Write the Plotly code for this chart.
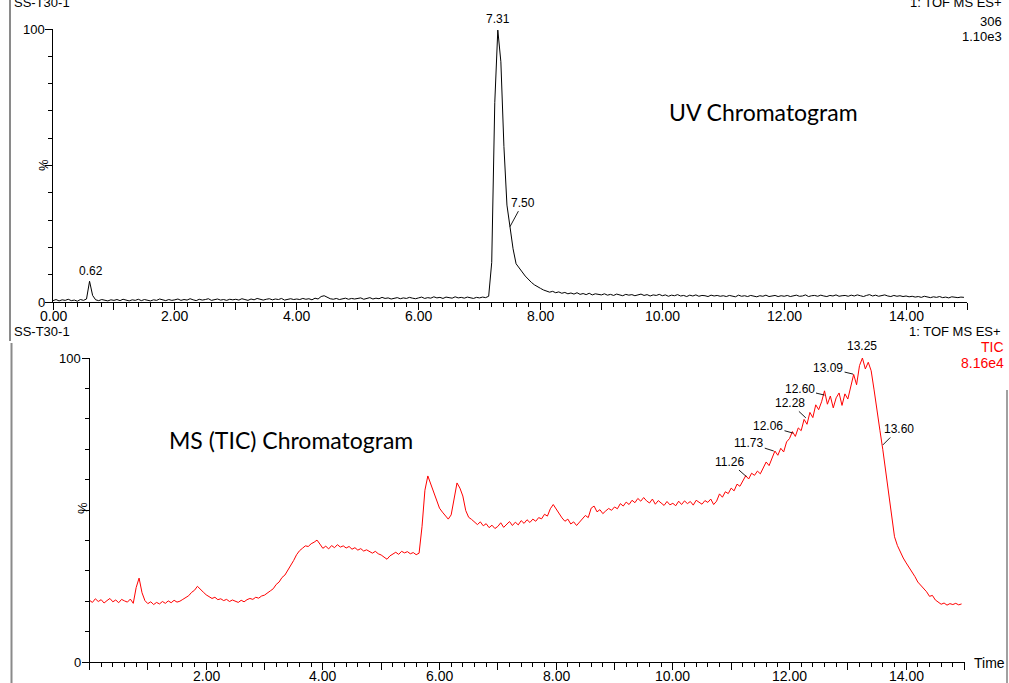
import plotly.graph_objects as go

W, H = 1009, 683

# ---------------- data ----------------
scan_step = 0.05
n_scans = 300
time_min = [round(i * scan_step, 2) for i in range(n_scans)]

# UV chromatogram, % of max (1.10e3), one row per minute
uv_pct = [
    0.5, 0.9, 0.4, 0.8, 0.6, 1.0, 0.5, 0.7, 0.3, 0.9, 0.6, 1.1, 7.6, 2.4, 0.8, 0.5, 0.9, 0.6, 0.4, 0.8,
    0.6, 0.9, 0.5, 1.0, 0.7, 0.4, 0.8, 0.6, 1.0, 0.5, 0.9, 0.7, 0.4, 0.8, 0.6, 1.1, 0.7, 0.5, 0.9, 0.6,
    0.8, 1.1, 0.6, 0.9, 0.7, 1.2, 0.8, 0.5, 1.0, 0.7, 0.9, 1.2, 0.6, 0.8, 1.1, 0.7, 0.9, 0.6, 1.0, 0.8,
    1.0, 0.7, 1.2, 0.9, 0.6, 1.1, 0.8, 1.3, 0.9, 0.7, 1.0, 1.2, 0.8, 1.1, 0.9, 1.3, 0.7, 1.0, 1.2, 0.9,
    1.1, 0.9, 1.3, 1.0, 1.2, 0.8, 1.4, 1.1, 2.0, 2.3, 1.6, 1.2, 1.0, 1.3, 0.9, 1.2, 1.4, 1.0, 1.3, 1.1,
    1.2, 1.5, 1.0, 1.3, 1.6, 1.1, 1.4, 1.2, 1.7, 1.3, 1.5, 1.1, 1.4, 1.6, 1.2, 1.5, 1.3, 1.7, 1.4, 1.2,
    1.5, 1.8, 1.3, 1.6, 1.4, 1.9, 1.5, 1.7, 1.3, 1.8, 1.6, 1.4, 1.9, 1.5, 1.7, 1.4, 1.8, 1.6, 1.3, 1.7,
    1.5, 1.8, 1.6, 2.1, 14.5, 73.0, 99.6, 88.0, 57.0, 35.5, 27.6, 19.5, 14.0, 12.3, 11.0, 9.5, 8.2, 7.2, 6.3, 5.5,
    5.0, 4.4, 4.1, 3.6, 3.9, 3.4, 3.7, 3.2, 3.5, 3.0, 3.3, 2.9, 3.4, 2.8, 3.1, 2.7, 3.2, 2.6, 3.0, 2.8,
    2.6, 3.0, 2.5, 2.8, 2.4, 2.9, 2.6, 2.3, 2.8, 2.5, 2.7, 2.3, 2.6, 2.9, 2.4, 2.7, 2.2, 2.6, 2.4, 2.8,
    2.3, 2.6, 2.1, 2.5, 2.3, 2.7, 2.2, 2.4, 2.0, 2.5, 2.2, 2.6, 2.1, 2.4, 2.3, 2.0, 2.5, 2.2, 2.4, 2.1,
    2.3, 2.0, 2.4, 2.2, 1.9, 2.5, 2.1, 2.3, 2.0, 2.4, 2.2, 1.9, 2.3, 2.1, 2.5, 2.0, 2.2, 2.4, 2.0, 2.3,
    2.1, 2.4, 2.0, 2.3, 2.5, 2.1, 2.2, 2.6, 2.0, 2.3, 2.4, 2.1, 2.5, 2.2, 2.0, 2.4, 2.2, 2.6, 2.1, 2.3,
    2.4, 2.1, 2.5, 2.2, 2.6, 2.3, 2.0, 2.4, 2.7, 2.2, 2.5, 2.1, 2.3, 2.6, 2.2, 2.0, 2.4, 2.1, 2.3, 2.0,
    2.2, 1.9, 2.1, 1.8, 2.0, 1.7, 2.1, 1.8, 1.6, 1.9, 1.7, 2.0, 1.6, 1.8, 1.5, 1.9, 1.7, 1.6, 1.8, 1.7,
]

# MS total ion current, % of max (8.16e4), one row per minute
tic_pct = [
    20.3, 19.6, 20.8, 19.9, 20.5, 19.4, 20.2, 20.9, 19.8, 20.4, 19.5, 20.6, 20.1, 19.7, 20.7, 19.3, 24.5, 27.6, 22.8, 20.2,
    19.2, 19.8, 18.9, 19.6, 19.1, 19.9, 19.3, 20.1, 19.5, 20.3, 19.7, 20.0, 20.6, 21.2, 21.8, 22.9, 23.6, 24.9, 24.1, 23.0,
    22.1, 21.4, 20.9, 21.3, 20.5, 20.8, 20.2, 20.6, 19.9, 20.4, 20.0, 19.6, 20.3, 19.8, 20.5, 20.9, 20.6, 21.3, 21.0, 21.7,
    22.0, 22.6, 23.4, 24.1, 25.5, 26.3, 27.8, 28.6, 30.2, 31.5, 33.4, 35.3, 36.6, 37.4, 38.2, 38.0, 38.9, 39.4, 40.1, 38.8,
    37.4, 38.1, 37.2, 38.3, 37.6, 38.6, 37.8, 38.2, 37.5, 38.0, 37.1, 37.6, 36.8, 37.3, 36.5, 36.9, 36.2, 35.8, 36.4, 35.6,
    35.2, 34.6, 33.8, 34.9, 35.5, 36.1, 35.4, 36.4, 35.9, 36.3, 35.6, 36.0, 35.3, 35.8, 44.5, 56.5, 61.2, 58.4, 55.6, 53.0,
    50.6, 49.3, 48.1, 47.0, 48.4, 53.8, 58.9, 57.2, 54.6, 49.8, 47.6, 46.9, 46.0, 45.2, 46.1, 44.8, 45.5, 44.2, 45.0, 43.9,
    44.6, 45.8, 44.3, 45.4, 46.2, 44.9, 46.0, 45.1, 46.5, 45.6, 46.8, 45.9, 47.0, 46.3, 47.5, 47.1, 48.6, 48.0, 50.4, 51.8,
    50.2, 48.6, 47.4, 46.3, 47.0, 45.4, 46.1, 44.9, 46.0, 46.8, 48.2, 47.5, 50.6, 51.3, 49.4, 50.1, 48.8, 49.7, 50.5, 49.9,
    51.0, 50.4, 52.1, 51.3, 52.6, 51.8, 53.2, 52.4, 53.8, 52.9, 54.1, 53.0, 52.3, 53.6, 51.9, 53.1, 52.2, 51.5, 52.8, 51.7,
    52.2, 51.4, 52.9, 51.8, 53.0, 52.1, 52.8, 51.6, 53.2, 52.4, 51.9, 53.1, 52.5, 53.6, 51.8, 52.9, 55.3, 54.2, 56.0, 55.4,
    57.2, 56.3, 58.5, 57.8, 59.6, 61.3, 60.2, 62.1, 61.4, 62.8, 61.9, 64.0, 65.8, 64.6, 67.2, 69.4, 68.0, 70.3, 69.1, 72.4,
    73.5, 75.8, 74.2, 77.0, 76.1, 79.8, 78.2, 82.1, 80.4, 84.6, 83.0, 85.6, 89.2, 84.8, 87.5, 83.6, 86.9, 88.5, 84.4, 88.2,
    86.5, 90.8, 94.6, 91.2, 97.5, 100.0, 96.4, 98.6, 95.8, 89.5, 82.0, 76.2, 69.8, 62.4, 55.1, 47.0, 41.2, 38.3, 36.0, 34.2,
    32.6, 31.2, 29.4, 28.1, 26.3, 25.2, 24.3, 23.1, 21.6, 21.9, 20.4, 19.7, 19.0, 19.4, 18.7, 19.2, 18.9, 19.3, 18.8, 19.1,
]

# labelled peaks (retention time, % height)
uv_peak_rt = [0.62, 7.31, 7.50]
uv_peak_val = [7.6, 100.0, 27.6]
tic_peak_rt = [11.26, 11.73, 12.06, 12.28, 12.60, 13.09, 13.25, 13.60]
tic_peak_val = [61.0, 69.4, 75.3, 80.3, 87.8, 94.7, 100.0, 71.4]

major_ticks = list(range(0, 16))
top_label_ticks = [0, 2, 4, 6, 8, 10, 12, 14]
bot_label_ticks = [2, 4, 6, 8, 10, 12, 14]
y_label_ticks = [0, 100]

# ---------------- layout helpers ----------------
def px(x):
    return x / W


def py(y):
    return 1 - y / H


FONT = "Liberation Sans, Arial, sans-serif"
TITLE_FONT = "Lato, Carlito, Calibri, sans-serif"

# panel geometry in pixels
TOP_L, TOP_R, TOP_B, TOP_T = 53, 967, 302, 29
BOT_L, BOT_R, BOT_B, BOT_T = 89.5, 964.5, 662, 358

fig = go.Figure()
fig.add_trace(go.Scatter(x=time_min, y=uv_pct, mode="lines",
                         line=dict(color="black", width=1), xaxis="x", yaxis="y",
                         hoverinfo="skip"))
fig.add_trace(go.Scatter(x=time_min, y=tic_pct, mode="lines",
                         line=dict(color="#ff0000", width=1), xaxis="x2", yaxis="y2",
                         hoverinfo="skip"))


def xaxis_cfg(domain, anchor):
    return dict(domain=domain, anchor=anchor, range=[0, 15], showgrid=False, zeroline=False,
                automargin=False, showticklabels=False,
                showline=True, linecolor="black", linewidth=1,
                ticks="outside", tickvals=major_ticks,
                ticklen=7, tickwidth=1, tickcolor="black",
                minor=dict(dtick=0.2, tick0=0, ticks="outside", ticklen=4,
                           tickcolor="black", tickwidth=1, showgrid=False),
                fixedrange=True)


def yaxis_cfg(domain, anchor):
    return dict(domain=domain, anchor=anchor, range=[0, 100], showgrid=False, zeroline=False,
                automargin=False, showticklabels=False,
                showline=True, linecolor="black", linewidth=1,
                ticks="outside", tickvals=[0, 50, 100],
                ticklen=7, tickwidth=1, tickcolor="black",
                minor=dict(dtick=10, tick0=0, ticks="outside", ticklen=4,
                           tickcolor="black", tickwidth=1, showgrid=False),
                fixedrange=True)


fig.update_layout(
    template="none",
    width=W, height=H, margin=dict(l=0, r=0, t=0, b=0, pad=0, autoexpand=False),
    paper_bgcolor="white", plot_bgcolor="white", showlegend=False,
    xaxis=xaxis_cfg([px(TOP_L), px(TOP_R)], "y"),
    yaxis=yaxis_cfg([py(TOP_B), py(TOP_T)], "x"),
    xaxis2=xaxis_cfg([px(BOT_L), px(BOT_R)], "y2"),
    yaxis2=yaxis_cfg([py(BOT_B), py(BOT_T)], "x2"),
)

ann = []
lab_font = dict(family=FONT, size=12, color="black")
tick_font = dict(family=FONT, size=14, color="black")
ytick_font = dict(family=FONT, size=13, color="black")

# axis tick labels (placed close to the axes as in the original)
for v in top_label_ticks:
    ann.append(dict(x=v, y=py(TOP_B + 14), xref="x", yref="paper", text=f"{v:.2f}",
                    showarrow=False, xanchor="center", yanchor="middle", font=tick_font))
for v in bot_label_ticks:
    ann.append(dict(x=v, y=py(BOT_B + 14), xref="x2", yref="paper", text=f"{v:.2f}",
                    showarrow=False, xanchor="center", yanchor="middle", font=tick_font))
for v in y_label_ticks:
    ann.append(dict(x=px(TOP_L - 6), y=v, xref="paper", yref="y", text=f"{v}",
                    showarrow=False, xanchor="right", yanchor="middle", font=ytick_font))
    ann.append(dict(x=px(BOT_L - 7), y=v, xref="paper", yref="y2", text=f"{v}",
                    showarrow=False, xanchor="right", yanchor="middle", font=ytick_font))

# UV peak labels
uv_offsets = [(0, 0), (0, 0), (13, -24)]
for rt, v, (ax_, ay_) in zip(uv_peak_rt, uv_peak_val, uv_offsets):
    if ax_ == 0 and ay_ == 0:
        ann.append(dict(x=rt, y=v, xref="x", yref="y", text=f"{rt:.2f}", showarrow=False,
                        yanchor="bottom", yshift=1, font=lab_font))
    else:
        ann.append(dict(x=rt, y=v, xref="x", yref="y", text=f"{rt:.2f}", showarrow=True,
                        arrowhead=0, arrowwidth=0.9, arrowcolor="black", ax=ax_, ay=ay_,
                        standoff=0, font=lab_font))

# TIC peak labels
tic_offsets = [(-17, -15), (-25, -8), (-25, -7), (-16, -15), (-25, -6), (-25, -6), (0, 0), (16, -16)]
for rt, v, (ax_, ay_) in zip(tic_peak_rt, tic_peak_val, tic_offsets):
    if ax_ == 0 and ay_ == 0:
        ann.append(dict(x=rt, y=v, xref="x2", yref="y2", text=f"{rt:.2f}", showarrow=False,
                        yanchor="bottom", yshift=3, font=lab_font))
    else:
        ann.append(dict(x=rt, y=v, xref="x2", yref="y2", text=f"{rt:.2f}", showarrow=True,
                        arrowhead=0, arrowwidth=0.9, arrowcolor="black", ax=ax_, ay=ay_,
                        standoff=0, font=lab_font))

hdr_font = dict(family=FONT, size=13, color="black")
red_font = dict(family=FONT, size=14, color="#ff0000")


def text_at(x, y, text, font, xanchor="left", angle=0):
    ann.append(dict(x=px(x), y=py(y), xref="paper", yref="paper", text=text, showarrow=False,
                    xanchor=xanchor, yanchor="middle", font=font, textangle=angle))


# top panel header
text_at(12, 2, "SS-T30-1", hdr_font)
text_at(1004, 2, "1: TOF MS ES+", hdr_font, xanchor="right")
text_at(1004, 21, "306", hdr_font, xanchor="right")
text_at(1004, 36, "1.10e3", hdr_font, xanchor="right")
text_at(43, 165, "%", dict(family=FONT, size=13, color="black"), xanchor="center", angle=-90)

# bottom panel header
text_at(12, 331, "SS-T30-1", hdr_font)
text_at(1003, 331, "1: TOF MS ES+", hdr_font, xanchor="right")
text_at(1006, 347, "TIC", red_font, xanchor="right")
text_at(1006, 363, "8.16e4", red_font, xanchor="right")
text_at(82, 508, "%", dict(family=FONT, size=13, color="black"), xanchor="center", angle=-90)
text_at(972, 663, "Time", dict(family=FONT, size=14, color="black"))

# chart titles
text_at(763, 112, "UV Chromatogram", dict(family=TITLE_FONT, size=23, color="black"), xanchor="center")
text_at(291, 440, "MS (TIC) Chromatogram", dict(family=TITLE_FONT, size=23, color="black"), xanchor="center")

fig.update_layout(annotations=ann)

# scan-edge grey bars
shapes = [
    dict(type="line", xref="paper", yref="paper", x0=px(10), x1=px(10), y0=py(0), y1=py(341),
         line=dict(color="#8a8a8a", width=2)),
    dict(type="line", xref="paper", yref="paper", x0=px(11.5), x1=px(11.5), y0=py(343), y1=py(683),
         line=dict(color="#8a8a8a", width=2)),
    dict(type="line", xref="paper", yref="paper", x0=px(1007), x1=px(1007), y0=py(390), y1=py(683),
         line=dict(color="#a0a0a0", width=2)),
]
fig.update_layout(shapes=shapes)

fig.write_html(
    "out.html",
    config={"displayModeBar": False},
    post_script="document.body.style.margin='0';document.body.style.overflow='hidden';",
)
